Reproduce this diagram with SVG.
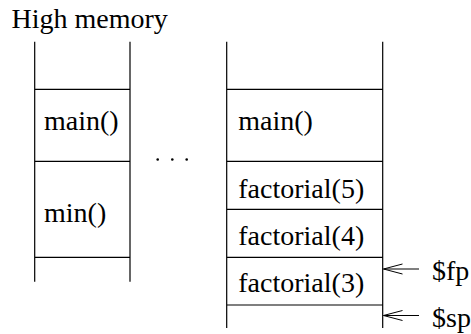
<svg xmlns="http://www.w3.org/2000/svg" width="471" height="334" viewBox="0 0 471 334">
<defs>
<style>
.t{font-family:"Liberation Serif","Times New Roman",serif;font-size:28px;fill:#000}
.l{stroke:#000;stroke-width:1.2;fill:none}
</style>
<marker id="ah" markerWidth="22" markerHeight="14" refX="20" refY="7" orient="auto" markerUnits="userSpaceOnUse">
<path d="M1,2 L20,7 L1,12" fill="none" stroke="#000" stroke-width="1"/>
</marker>
</defs>
<rect width="471" height="334" fill="#fff"/>
<text class="t" x="11.5" y="28">High memory</text>
<g id="left-stack">
<path class="l" d="M34.7,41.7V281.7M130,41.7V281.7M34.7,89.3H130M34.7,161.3H130M34.7,257.3H130"/>
</g>
<g id="left-main"><text class="t" x="44" y="130">main()</text></g>
<g id="left-min"><text class="t" x="44" y="222">min()</text></g>
<g id="dots">
<circle cx="157.7" cy="159.5" r="1.3"/>
<circle cx="172.3" cy="159.5" r="1.3"/>
<circle cx="186.7" cy="159.5" r="1.3"/>
</g>
<g id="right-stack">
<path class="l" d="M226.7,41.7V328M382.7,41.7V328M226.7,89.3H382.7M226.7,161.3H382.7M226.7,209.3H382.7M226.7,257.3H382.7M226.7,305H382.7"/>
</g>
<g id="right-main"><text class="t" x="238.3" y="130">main()</text></g>
<g id="f5"><text class="t" x="238.3" y="198">factorial(5)</text></g>
<g id="f4"><text class="t" x="238.3" y="245">factorial(4)</text></g>
<g id="f3"><text class="t" x="238.3" y="292">factorial(3)</text></g>
<g id="connectors">
<line class="l" x1="419" y1="269" x2="383.5" y2="269" marker-end="url(#ah)"/>
<line class="l" x1="419" y1="315.5" x2="383.5" y2="315.5" marker-end="url(#ah)"/>
</g>
<g id="fp"><text class="t" x="432" y="280">$fp</text></g>
<g id="sp"><text class="t" x="432" y="326.5">$sp</text></g>
</svg>
